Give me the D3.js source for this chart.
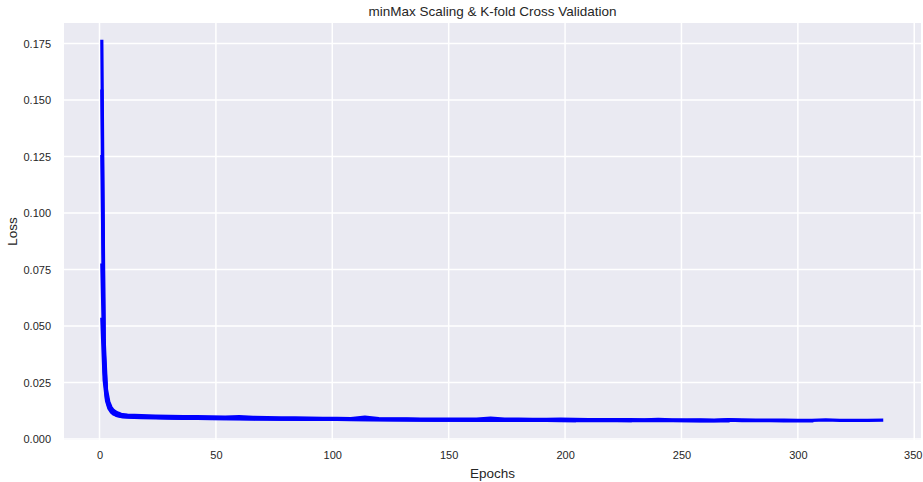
<!DOCTYPE html>
<html>
<head>
<meta charset="utf-8">
<script src="https://cdn.jsdelivr.net/npm/d3@7"></script>
<style>
  html, body { margin: 0; padding: 0; background: #fff; }
  svg { display: block; font-family: "Liberation Sans", Arial, sans-serif; }
</style>
</head>
<body>
<svg id="chart" width="923" height="482"></svg>
<script>
const epochs = [1, 2, 3, 4, 5, 6, 7, 8, 9, 10,
  12, 18, 24, 30, 36, 42, 48, 54, 60, 66, 72, 78, 84, 90, 96, 102, 108, 114, 120,
  126, 132, 138, 144, 150, 156, 162, 168, 174, 180, 186, 192, 198, 204, 210, 216,
  222, 228, 234, 240, 246, 252, 258, 264, 270, 276, 282, 288, 294, 300, 306, 312,
  318, 324, 330, 336];

// one loss series per fold (folds stop early at different epochs)
const fold1 = [0.176, 0.044, 0.022, 0.0165, 0.0140, 0.0127, 0.0120, 0.0115, 0.0111, 0.0108,
  0.0106, 0.0104, 0.0102, 0.0101, 0.0100, 0.0099, 0.0098, 0.0097, 0.0099, 0.0096, 0.0095,
  0.0094, 0.0094, 0.0093, 0.0092, 0.0092, 0.0091, 0.0097, 0.0091, 0.0090, 0.0090, 0.0089,
  0.0089, 0.0089, 0.0089, 0.0088, 0.0093, 0.0088, 0.0088, 0.0087, 0.0087, 0.0088, 0.0087,
  0.0086, 0.0086, 0.0086, 0.0086, 0.0085, 0.0087, 0.0085, 0.0085, 0.0085, 0.0084, 0.0086,
  0.0085, 0.0084, 0.0084, 0.0084, 0.0083, 0.0083, 0.0085, 0.0083, 0.0083, 0.0083, 0.0084];
const fold2 = [0.154, 0.039, 0.020, 0.0155, 0.0132, 0.0120, 0.0113, 0.0108, 0.0105, 0.0103,
  0.0101, 0.0099, 0.0097, 0.0096, 0.0095, 0.0094, 0.0093, 0.0093, 0.0092, 0.0091, 0.0091,
  0.0090, 0.0090, 0.0089, 0.0089, 0.0088, 0.0088, 0.0088, 0.0087, 0.0087, 0.0087, 0.0086,
  0.0086, 0.0086, 0.0086, 0.0085, 0.0086, 0.0085, 0.0085, 0.0085, 0.0084, 0.0085, 0.0084,
  0.0084, 0.0084, 0.0084, 0.0083, 0.0083, 0.0083, 0.0083, 0.0082, 0.0083, 0.0082, 0.0084,
  0.0082, 0.0082, 0.0082, 0.0081, 0.0082, 0.0081];
const fold3 = [0.125, 0.034, 0.019, 0.0148, 0.0128, 0.0117, 0.0111, 0.0107, 0.0104, 0.0102,
  0.0100, 0.0098, 0.0096, 0.0095, 0.0094, 0.0093, 0.0092, 0.0092, 0.0091, 0.0090, 0.0090,
  0.0089, 0.0089, 0.0088, 0.0088, 0.0087, 0.0087, 0.0087, 0.0086, 0.0086, 0.0086, 0.0085,
  0.0085, 0.0085, 0.0085, 0.0084, 0.0085, 0.0084, 0.0084, 0.0084, 0.0083, 0.0084, 0.0083,
  0.0083, 0.0083, 0.0083, 0.0082, 0.0083, 0.0082, 0.0082, 0.0082, 0.0081, 0.0082, 0.0081];
const fold4 = [0.077, 0.030, 0.018, 0.0142, 0.0125, 0.0115, 0.0109, 0.0105, 0.0102, 0.0100,
  0.0099, 0.0097, 0.0096, 0.0095, 0.0094, 0.0093, 0.0092, 0.0091, 0.0092, 0.0090, 0.0089,
  0.0089, 0.0088, 0.0088, 0.0087, 0.0087, 0.0087, 0.0086, 0.0086, 0.0086, 0.0085, 0.0085,
  0.0085, 0.0085, 0.0084, 0.0084, 0.0084, 0.0084, 0.0083, 0.0083, 0.0083, 0.0083, 0.0082,
  0.0082, 0.0082, 0.0082, 0.0082];
const fold5 = [0.053, 0.026, 0.017, 0.0136, 0.0120, 0.0111, 0.0106, 0.0102, 0.0100, 0.0098,
  0.0097, 0.0095, 0.0094, 0.0093, 0.0092, 0.0092, 0.0091, 0.0090, 0.0090, 0.0089, 0.0089,
  0.0088, 0.0088, 0.0087, 0.0087, 0.0087, 0.0086, 0.0086, 0.0086, 0.0085, 0.0085, 0.0085,
  0.0084, 0.0084, 0.0084, 0.0084, 0.0084, 0.0083, 0.0083, 0.0083, 0.0083, 0.0082, 0.0082];
const folds = [fold1, fold2, fold3, fold4, fold5];

const xTicks = [0, 50, 100, 150, 200, 250, 300, 350];
const yTicks = [0, 0.025, 0.05, 0.075, 0.1, 0.125, 0.15, 0.175];
const title = "minMax Scaling & K-fold Cross Validation";

const svg = d3.select("#chart");
const margin = { left: 64, right: 2, top: 23, bottom: 42 };
const W = 923, H = 482;

const x = d3.scaleLinear().domain([-15.25, 352.9]).range([margin.left, W - margin.right]);
const y = d3.scaleLinear().domain([-0.0004, 0.1841]).range([H - margin.bottom, margin.top]);

// plot background (seaborn darkgrid)
svg.append("rect")
  .attr("x", margin.left).attr("y", margin.top)
  .attr("width", W - margin.left - margin.right)
  .attr("height", H - margin.top - margin.bottom)
  .attr("fill", "#eaeaf2");

const grid = svg.append("g");
grid.selectAll(".gx").data(xTicks).join("line")
  .attr("x1", d => x(d)).attr("x2", d => x(d))
  .attr("y1", margin.top).attr("y2", H - margin.bottom)
  .attr("stroke", "#fff").attr("stroke-width", 1.5);
grid.selectAll(".gy").data(yTicks).join("line")
  .attr("y1", d => y(d)).attr("y2", d => y(d))
  .attr("x1", margin.left).attr("x2", W - margin.right)
  .attr("stroke", "#fff").attr("stroke-width", 1.5);

// axes: labels only, no tick marks or spines
const xAxis = svg.append("g")
  .attr("transform", `translate(0,${H - margin.bottom})`)
  .call(d3.axisBottom(x).tickValues(xTicks).tickSize(0).tickPadding(11).tickFormat(d3.format("d")));
const yAxis = svg.append("g")
  .attr("transform", `translate(${margin.left},0)`)
  .call(d3.axisLeft(y).tickValues(yTicks).tickSize(0).tickPadding(13).tickFormat(d3.format(".3f")));
[xAxis, yAxis].forEach(a => {
  a.select(".domain").remove();
  a.selectAll("text").attr("fill", "#262626").style("font-size", "11px")
    .style("font-family", "'Liberation Sans', Arial, sans-serif");
});
// keep the last x label inside the picture, as in the reference
xAxis.selectAll("text").filter(d => d === 350).attr("dx", -1.5);

const line = d3.line().x(d => x(d[0])).y(d => y(d[1]));
svg.append("g").selectAll("path").data(folds).join("path")
  .attr("d", f => line(f.map((v, i) => [epochs[i], v])))
  .attr("fill", "none")
  .attr("stroke", "#0000ff")
  .attr("stroke-width", 3.2)
  .attr("stroke-linejoin", "round")
  .attr("stroke-linecap", "square");

svg.append("text")
  .attr("x", (margin.left + W - margin.right) / 2).attr("y", 16)
  .attr("text-anchor", "middle").attr("fill", "#262626")
  .style("font-size", "13.5px").text(title);

svg.append("text")
  .attr("x", (margin.left + W - margin.right) / 2).attr("y", 478)
  .attr("text-anchor", "middle").attr("fill", "#262626")
  .style("font-size", "13.5px").text("Epochs");

svg.append("text")
  .attr("transform", `translate(17,${(margin.top + H - margin.bottom) / 2}) rotate(-90)`)
  .attr("text-anchor", "middle").attr("fill", "#262626")
  .style("font-size", "13.5px").text("Loss");
</script>
</body>
</html>
